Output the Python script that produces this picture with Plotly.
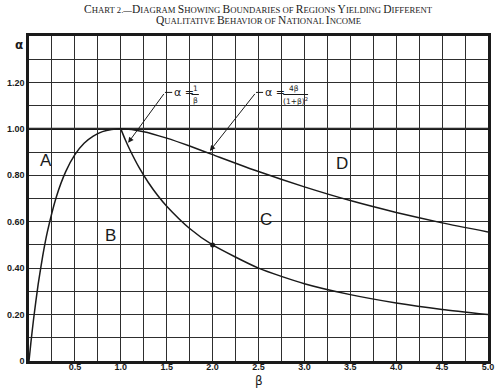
import plotly.graph_objects as go

# ---------------- data ----------------
beta_d = [0, 0.02, 0.05, 0.1, 0.15, 0.2, 0.3, 0.4, 0.5, 0.6, 0.7, 0.8, 0.9, 1.0,
          1.25, 1.5, 1.75, 2.0, 2.5, 3.0, 3.5, 4.0, 4.5, 5.0]
alpha_d = [0, 0.077, 0.181, 0.331, 0.454, 0.556, 0.710, 0.816, 0.889, 0.938, 0.969,
           0.988, 0.997, 1.0, 0.988, 0.960, 0.926, 0.889, 0.816, 0.750, 0.691,
           0.640, 0.595, 0.556]
beta_c = [1.0, 1.05, 1.1, 1.2, 1.3, 1.4, 1.5, 1.75, 2.0, 2.5, 3.0, 3.5, 4.0, 4.5, 5.0]
alpha_c = [1.0, 0.952, 0.909, 0.833, 0.769, 0.714, 0.667, 0.571, 0.5, 0.4, 0.333,
           0.286, 0.25, 0.222, 0.2]
dot_beta = [2.0]
dot_alpha = [0.5]

x_tickvals = [0.5, 1.0, 1.5, 2.0, 2.5, 3.0, 3.5, 4.0, 4.5, 5.0]
x_ticktext = ["0.5", "1.0", "1.5", "2.0", "2.5", "3.0", "3.5", "4.0", "4.5", "5.0"]
y_tickvals = [0, 0.2, 0.4, 0.6, 0.8, 1.0, 1.2]
y_ticktext = ["0", "0.20", "0.40", "0.60", "0.80", "1.00", "1.20"]

region_labels = ["A", "B", "C", "D"]
region_beta = [0.185, 0.89, 2.58, 3.41]
region_alpha = [0.864, 0.54, 0.61, 0.85]

title1 = "Chart 2.—Diagram Showing Boundaries of Regions Yielding Different"
title2 = "Qualitative Behavior of National Income"

INK = "#1a1a1a"
GRID = "#2e2e2e"

PLOT_H = 388 - 36 - 27


def smallcaps(s, big=11.5, small=8.7):
    out = []
    cur_size = None
    buf = ""
    for ch in s:
        size = big if ch.isupper() else small
        if size != cur_size and buf:
            out.append(f'<span style="font-size:{cur_size}px">{buf}</span>')
            buf = ""
        cur_size = size
        buf += ch.upper()
    if buf:
        out.append(f'<span style="font-size:{cur_size}px">{buf}</span>')
    return "".join(out)


fig = go.Figure()

fig.add_trace(go.Scatter(x=beta_d, y=alpha_d, mode="lines",
                         line=dict(color=INK, width=1.5, shape="spline", smoothing=0.6),
                         hoverinfo="skip", showlegend=False))
fig.add_trace(go.Scatter(x=beta_c, y=alpha_c, mode="lines",
                         line=dict(color=INK, width=1.5, shape="spline", smoothing=0.6),
                         hoverinfo="skip", showlegend=False))
fig.add_trace(go.Scatter(x=dot_beta, y=dot_alpha, mode="markers",
                         marker=dict(color=INK, size=5), showlegend=False,
                         hoverinfo="skip"))

# thick alpha = 1 line
fig.add_shape(type="line", x0=0, x1=5, y0=1.0, y1=1.0,
              line=dict(color=INK, width=2.2), layer="below")

for lab, bx, ay in zip(region_labels, region_beta, region_alpha):
    fig.add_annotation(x=bx, y=ay, text=lab, showarrow=False,
                       font=dict(family="Liberation Sans", size=17, color=INK))

# arrows
fig.add_annotation(x=1.08, y=0.94, ax=1.481, ay=1.157, axref="x", ayref="y",
                   xref="x", yref="y", text="", showarrow=True,
                   arrowhead=2, arrowsize=1.1, arrowwidth=1, arrowcolor=INK)
fig.add_annotation(x=1.97, y=0.905, ax=2.473, ay=1.157, axref="x", ayref="y",
                   xref="x", yref="y", text="", showarrow=True,
                   arrowhead=2, arrowsize=1.1, arrowwidth=1, arrowcolor=INK)
fig.add_shape(type="line", x0=1.481, x1=1.56, y0=1.157, y1=1.157,
              line=dict(color=INK, width=1))
fig.add_shape(type="line", x0=2.473, x1=2.55, y0=1.157, y1=1.157,
              line=dict(color=INK, width=1))

# formula texts
lf = dict(family="DejaVu Sans", size=11, color=INK)
sf = dict(family="DejaVu Sans", size=7.5, color=INK)
fig.add_annotation(x=1.56, y=1.157, text="α =", showarrow=False, xanchor="left", font=lf)
fig.add_annotation(x=1.81, y=1.150, text="1", showarrow=False, yanchor="bottom",
                   font=sf, borderpad=0)
fig.add_annotation(x=1.81, y=1.146, text="β", showarrow=False, yanchor="top",
                   font=sf, borderpad=0)
fig.add_annotation(x=2.55, y=1.157, text="α =", showarrow=False, xanchor="left", font=lf)
fig.add_annotation(x=2.89, y=1.150, text="4β", showarrow=False, yanchor="bottom",
                   font=sf, borderpad=0)
fig.add_annotation(x=2.90, y=1.146, text="(1+β)<sup>2</sup>", showarrow=False,
                   yanchor="top", font=sf, borderpad=0)
fig.add_shape(type="line", x0=1.77, x1=1.85, y0=1.148, y1=1.148,
              line=dict(color=INK, width=1))
fig.add_shape(type="line", x0=2.77, x1=3.04, y0=1.148, y1=1.148,
              line=dict(color=INK, width=1))

# axis symbols
fig.add_annotation(x=-0.022, xref="paper", y=1.36, yref="y", text="<b>α</b>",
                   showarrow=False, xanchor="center",
                   font=dict(family="DejaVu Sans", size=12, color=INK))
fig.add_annotation(x=2.5, y=-0.062, xref="x", yref="paper", text="β",
                   showarrow=False, yanchor="middle",
                   font=dict(family="DejaVu Sans", size=12, color=INK))

# title
tf = dict(family="Liberation Serif", color="#222222", size=11.5)
fig.add_annotation(x=0.5, xref="paper", y=1 + (36 - 8.5) / PLOT_H, yref="paper",
                   text=smallcaps(title1), showarrow=False, font=tf,
                   yanchor="middle")
fig.add_annotation(x=0.5, xref="paper", y=1 + (36 - 20.5) / PLOT_H, yref="paper",
                   text=smallcaps(title2), showarrow=False, font=tf,
                   yanchor="middle")

tick_font = dict(family="Liberation Sans", size=9, color=INK, weight="bold")

fig.update_xaxes(range=[0, 5], tickmode="array", tickvals=x_tickvals,
                 ticktext=x_ticktext, tickfont=tick_font, ticks="",
                 ticklabelposition="outside", ticklabelstandoff=-5,
                 showgrid=True, gridcolor=GRID, gridwidth=1.2,
                 minor=dict(tickmode="linear", tick0=0, dtick=0.25, showgrid=True,
                            gridcolor=GRID, gridwidth=1.2),
                 showline=True, linecolor=INK, linewidth=2.5, mirror=True,
                 zeroline=False, fixedrange=True, automargin=False)
fig.update_yaxes(range=[0, 1.4], tickmode="array", tickvals=y_tickvals,
                 ticktext=y_ticktext, tickfont=tick_font, ticks="",
                 showgrid=True, gridcolor=GRID, gridwidth=1.2,
                 minor=dict(tickmode="linear", tick0=0, dtick=0.1, showgrid=True,
                            gridcolor=GRID, gridwidth=1.2),
                 showline=True, linecolor=INK, linewidth=2.5, mirror=True,
                 zeroline=False, fixedrange=True, automargin=False)

fig.update_layout(
    width=500, height=388,
    margin=dict(l=29, r=12, t=36, b=27),
    plot_bgcolor="white", paper_bgcolor="white",
    showlegend=False,
)

fig.write_html("out.html", config={"displayModeBar": False},
               post_script="document.body.style.margin='0';")
